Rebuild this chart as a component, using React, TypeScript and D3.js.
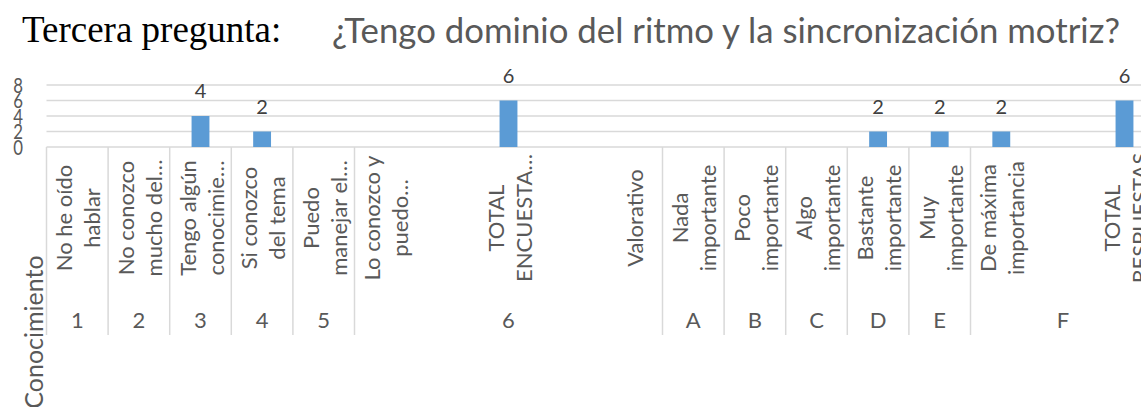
import React from "react";
import * as d3 from "d3";

const leafLines: string[][] = [
  ["No he oído", "hablar"],
  ["No conozco", "mucho del…"],
  ["Tengo algún", "conocimie…"],
  ["Si conozco", "del tema"],
  ["Puedo", "manejar el…"],
  ["Lo conozco y", "puedo…"],
  [],
  ["TOTAL", "ENCUESTA…"],
  [],
  ["Valorativo"],
  ["Nada", "importante"],
  ["Poco", "importante"],
  ["Algo", "importante"],
  ["Bastante", "importante"],
  ["Muy", "importante"],
  ["De máxima", "importancia"],
  [],
  ["TOTAL", "RESPUESTAS"],
];
const leafGroups = ["1", "2", "3", "4", "5", "6", "6", "6", "6", "6", "A", "B", "C", "D", "E", "F", "F", "F"];
const values: (number | null)[] = [null, null, 4, 2, null, null, null, 6, null, null, null, null, null, 2, 2, 2, null, 6];
const yTicks = [0, 2, 4, 6, 8];
const titleLeft = "Tercera pregunta:";
const titleRight = "¿Tengo dominio del ritmo y la sincronización motriz?";
const outerLabel = "Conocimiento";

const W = 1141;
const H = 407;
const X0 = 46.5;
const BAND = 61.6;
const SANS = "Lato, 'Open Sans', sans-serif";

export default function App() {
  const idx = leafGroups.map((_, i) => i);
  const x = d3
    .scaleBand<number>()
    .domain(idx)
    .range([X0, X0 + BAND * idx.length])
    .padding(0);
  const y = d3.scaleLinear().domain([0, 8]).range([147, 85]);
  const bw = x.bandwidth() * 0.29;

  const spans: { g: string; start: number; end: number }[] = [];
  leafGroups.forEach((g, i) => {
    const last = spans[spans.length - 1];
    if (last && last.g === g) last.end = i;
    else spans.push({ g, start: i, end: i });
  });
  const bounds = [X0, ...spans.map((s) => (x(s.end) as number) + x.bandwidth())];

  const labelCenterY = 218;

  return (
    <svg
      width={W}
      height={H}
      style={{ position: "absolute", left: 0, top: 0, background: "#fff" }}
      xmlns="http://www.w3.org/2000/svg"
    >
      <text x={22} y={42} fontFamily="'Liberation Serif', 'Times New Roman', serif" fontSize={37} fill="#000">
        {titleLeft}
      </text>
      <text
        x={332}
        y={43}
        fontFamily={SANS}
        fontSize={34}
        fill="#595959"
        textLength={788}
        lengthAdjust="spacingAndGlyphs"
      >
        {titleRight}
      </text>

      {yTicks.map((t) => (
        <line key={t} x1={X0} x2={X0 + BAND * idx.length} y1={y(t)} y2={y(t)} stroke="#d9d9d9" strokeWidth={1.5} />
      ))}

      {yTicks.map((t) => (
        <g key={"yt" + t} transform={`translate(18,${y(t) + 7.5}) scale(0.8,1)`}>
          <text x={0} y={0} textAnchor="middle" fontFamily={SANS} fontSize={21} fill="#595959">
            {t}
          </text>
        </g>
      ))}

      {bounds.map((b, i) => (
        <line key={"b" + i} x1={b} x2={b} y1={147} y2={335} stroke="#d9d9d9" strokeWidth={1.5} />
      ))}

      {values.map((v, i) =>
        v == null ? null : (
          <rect
            key={"bar" + i}
            x={(x(i) as number) + x.bandwidth() / 2 - bw / 2}
            y={y(v)}
            width={bw}
            height={y(0) - y(v)}
            fill="#5b9bd5"
          />
        )
      )}

      {values.map((v, i) =>
        v == null ? null : (
          <text
            key={"dl" + i}
            x={(x(i) as number) + x.bandwidth() / 2}
            y={y(v) - 18}
            textAnchor="middle"
            fontFamily={SANS}
            fontSize={20}
            fill="#404040"
          >
            {v}
          </text>
        )
      )}

      {leafLines.map((lines, i) => {
        const cx = (x(i) as number) + x.bandwidth() / 2;
        return lines.map((ln, j) => {
          const bx = lines.length === 1 ? cx + 11 : cx - 5 + j * 28;
          return (
            <text
              key={"ll" + i + "-" + j}
              transform={`translate(${bx},${labelCenterY}) rotate(-90)`}
              textAnchor="middle"
              fontFamily={SANS}
              fontSize={22}
              fill="#595959"
            >
              {ln}
            </text>
          );
        });
      })}

      {spans.map((s) => {
        const cx = ((x(s.start) as number) + (x(s.end) as number) + x.bandwidth()) / 2;
        return (
          <text key={"g" + s.g} x={cx} y={328} textAnchor="middle" fontFamily={SANS} fontSize={22} fill="#595959">
            {s.g}
          </text>
        );
      })}

      <text
        transform={`translate(43,332) rotate(-90)`}
        textAnchor="middle"
        fontFamily={SANS}
        fontSize={25}
        fill="#595959"
      >
        {outerLabel}
      </text>
    </svg>
  );
}
